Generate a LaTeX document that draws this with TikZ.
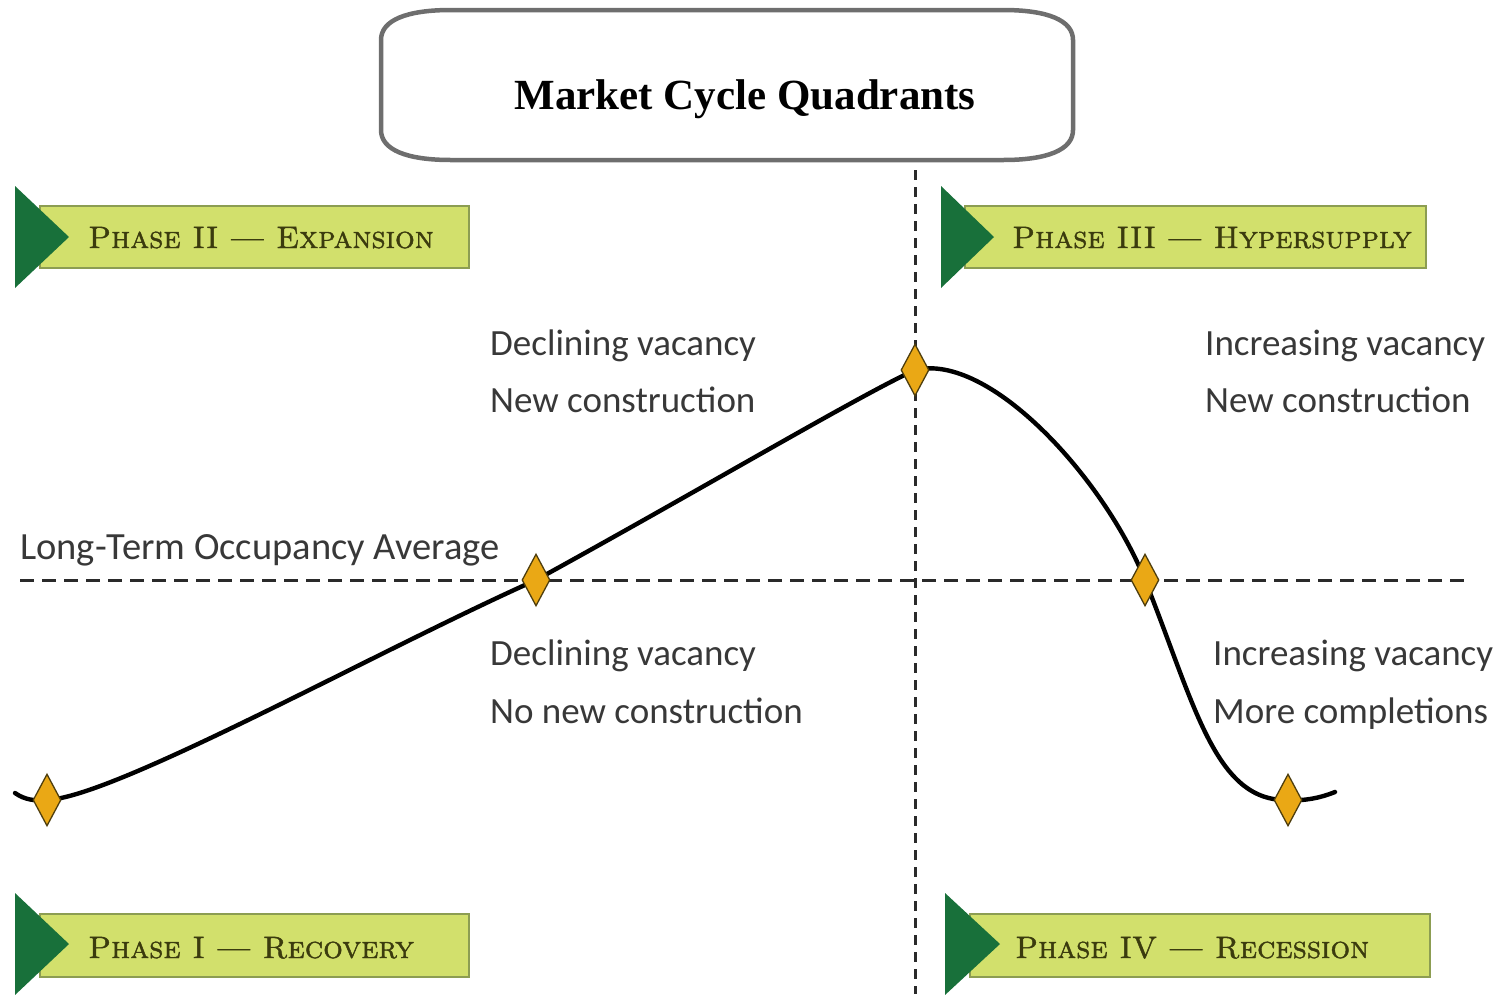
\documentclass[tikz,border=0pt]{standalone}
\usepackage{fontspec}
\usetikzlibrary{shapes.geometric}
\newfontfamily\notefont{Carlito}
\newfontfamily\titlefont{Liberation Serif}
\newfontfamily\phasefont{lmromancaps10-regular}[Extension=.otf, FakeBold=1.3]
\definecolor{bannerfill}{HTML}{D2E06C}
\definecolor{bannerdraw}{HTML}{8C9D52}
\definecolor{tridark}{HTML}{18703A}
\definecolor{phasecol}{HTML}{3B3B0E}
\definecolor{diafill}{HTML}{EAA815}
\definecolor{diadraw}{HTML}{4E3E0E}
\definecolor{boxgray}{HTML}{6E6E6E}
\definecolor{notecol}{HTML}{383838}
\definecolor{dashcol}{HTML}{2A2A2A}
\tikzset{
  banner/.style={fill=bannerfill, draw=bannerdraw, line width=1.8pt},
  tri/.style={fill=tridark},
  phasetext/.style={anchor=base west, inner sep=0pt, text=phasecol,
    font=\phasefont\fontsize{31}{31}\selectfont},
  note/.style={anchor=base west, inner sep=0pt, text=notecol,
    font=\notefont\fontsize{37}{37}\selectfont},
  marker/.style={diamond, draw=diadraw, fill=diafill, line width=1.3pt,
    inner sep=0pt, minimum width=28pt, minimum height=52pt},
  avgline/.style={dashcol, line width=3pt, dash pattern=on 14pt off 8pt},
  midline/.style={dashcol, line width=3pt, dash pattern=on 10pt off 7pt},
  cycle line/.style={black, line width=4.4pt, line cap=round},
  titlebox/.style={draw=boxgray, line width=4.5pt, fill=white}
}
\begin{document}
\begin{tikzpicture}[x=1pt, y=-1pt]
\useasboundingbox (0,0) rectangle (1506,994);

% title box
\draw[titlebox] (451,10) -- (1003,10)
  .. controls (1047,10) and (1073,20) .. (1073,40)
  -- (1073,130)
  .. controls (1073,150) and (1047,160) .. (1003,160)
  -- (451,160)
  .. controls (407,160) and (381,150) .. (381,130)
  -- (381,40)
  .. controls (381,20) and (407,10) .. (451,10) -- cycle;
\node[anchor=base, inner sep=0pt, font=\titlefont\bfseries\fontsize{43}{43}\selectfont] (title) at (745,109) {Market Cycle Quadrants};

% reference lines
\coordinate (hl) at (20,580);
\coordinate (hr) at (1465,580);
\coordinate (vt) at (915,170);
\coordinate (vb) at (915,994);
\draw[avgline] (hl) -- (hr);
\draw[midline] (vt) -- (vb);

% cycle curve
\coordinate (p0) at (15,793);
\coordinate (p1) at (47,800);
\coordinate (p2) at (536,580);
\coordinate (p3) at (915,370);
\coordinate (p4) at (1145,580);
\coordinate (p5) at (1288,800);
\coordinate (p6) at (1335,792);
\draw[cycle line] (p0) .. controls (25,800) and (35,801) .. (p1)
  .. controls (115,797) and (375,652) .. (p2)
  .. controls (700,490) and (860,395) .. (p3)
  .. controls (990,352) and (1105,480) .. (p4)
  .. controls (1195,705) and (1215,802) .. (p5)
  .. controls (1305,801) and (1320,798) .. (p6);

\node[marker] (d1) at (p1) {};
\node[marker] (d2) at (p2) {};
\node[marker] (d3) at (p3) {};
\node[marker] (d4) at (p4) {};
\node[marker] (d5) at (p5) {};

% notes
\node[note] (n1) at (490,355) {Declining vacancy};
\node[note] (n2) at (490,412) {New construction};
\node[note] (n3) at (1205,355) {Increasing vacancy};
\node[note] (n4) at (1205,412) {New construction};
\node[note, font=\notefont\fontsize{38.5}{38.5}\selectfont] (n5) at (20,559) {Long-Term Occupancy Average};
\node[note] (n6) at (490,665) {Declining vacancy};
\node[note] (n7) at (490,723) {No new construction};
\node[note] (n8) at (1213,665) {Increasing vacancy};
\node[note] (n9) at (1213,723) {More completions};

% banners
\draw[banner] (40,206) rectangle (469,268);
\fill[tri] (15,186) -- (69,237) -- (15,288) -- cycle;
\node[phasetext] (ph2) at (88,248) {Phase II — Expansion};

\draw[banner] (965,206) rectangle (1426,268);
\fill[tri] (941,186) -- (994,237) -- (941,288) -- cycle;
\node[phasetext] (ph3) at (1012,248) {Phase III — Hypersupply};

\draw[banner] (40,914) rectangle (469,977);
\fill[tri] (15,893) -- (69,944) -- (15,995) -- cycle;
\node[phasetext] (ph1) at (88,958) {Phase I — Recovery};

\draw[banner] (970,914) rectangle (1430,977);
\fill[tri] (945,893) -- (1000,944) -- (945,995) -- cycle;
\node[phasetext] (ph4) at (1015,958) {Phase IV — Recession};
\end{tikzpicture}
\end{document}
